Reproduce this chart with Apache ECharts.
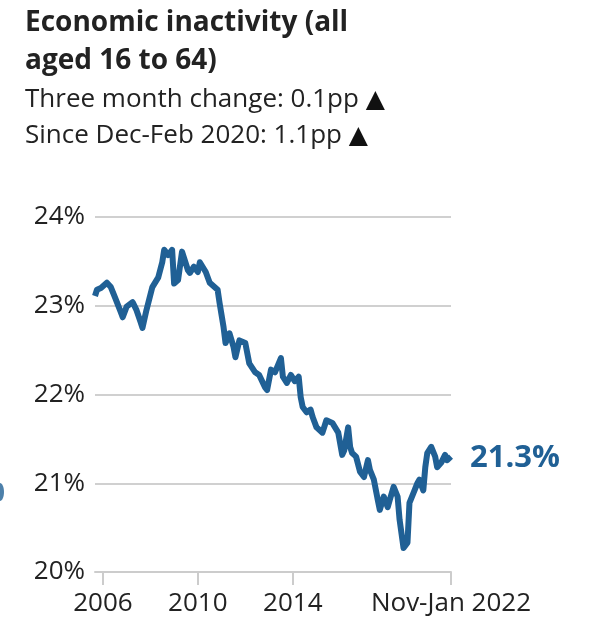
<!DOCTYPE html>
<html>
<head>
<meta charset="utf-8">
<script src="https://cdn.jsdelivr.net/npm/echarts@6/dist/echarts.min.js"></script>
<style>
    html, body { margin: 0; padding: 0; background: #fff; }
    #chart { width: 592px; height: 619px; }
</style>
</head>
<body>
<div id="chart"></div>
<script>
    // months counted from the start of the line (last point = Nov-Jan 2022)
    var months = [0, 1, 3, 6, 8, 10, 13, 14, 16, 19, 21, 23, 24, 26, 29, 32, 34, 35, 37, 39,
        40, 42, 44, 47, 48, 50, 52, 53, 56, 58, 62, 63, 65, 66, 68, 70, 71, 73, 76, 78,
        81, 83, 86, 87, 89, 91, 94, 95, 97, 99, 101, 103, 104, 105, 107, 109, 110, 112, 115, 117,
        120, 123, 125, 126, 128, 129, 130, 132, 134, 136, 138, 139, 141, 143, 144, 146, 148, 149, 151, 153,
        154, 156, 158, 159, 161, 163, 164, 166, 167, 168, 170, 172, 173, 175, 177, 178, 180];
    // inactivity rate, %
    var rates = [23.11, 23.18, 23.2, 23.26, 23.21, 23.1, 22.93, 22.87, 22.99, 23.04, 22.95, 22.82, 22.75, 22.95, 23.21, 23.32, 23.49, 23.63, 23.57, 23.63,
        23.25, 23.29, 23.61, 23.4, 23.37, 23.44, 23.38, 23.49, 23.38, 23.26, 23.18, 23.03, 22.76, 22.58, 22.69, 22.54, 22.42, 22.61, 22.58, 22.35,
        22.25, 22.22, 22.08, 22.05, 22.28, 22.25, 22.41, 22.2, 22.13, 22.22, 22.15, 22.2, 21.97, 21.86, 21.8, 21.83, 21.75, 21.63, 21.57, 21.71,
        21.68, 21.57, 21.32, 21.37, 21.63, 21.41, 21.34, 21.3, 21.13, 21.07, 21.26, 21.15, 21.04, 20.81, 20.7, 20.85, 20.73, 20.81, 20.96, 20.85,
        20.59, 20.27, 20.33, 20.78, 20.89, 21.0, 21.04, 20.92, 21.18, 21.34, 21.41, 21.3, 21.18, 21.23, 21.32, 21.26, 21.3];
    // x axis ticks
    var tickMonths = [4, 52, 100, 180];
    var tickLabels = ['2006', '2010', '2014', 'Nov-Jan 2022'];
    var yTicks = [20, 21, 22, 23, 24];

    var blue = '#206095';
    var font = '"Open Sans", sans-serif';

    var seriesData = [];
    for (var i = 0; i < months.length; i++) {
        seriesData.push([months[i], rates[i]]);
    }

    // subtitle line with a larger triangle
    var subLine = function (txt, top) {
        return {
            type: 'text', left: 25, top: top,
            style: {
                text: '{t|' + txt + ' }{a|\u25B2}',
                rich: {
                    t: {font: '26px ' + font, fill: '#222'},
                    a: {font: '25px "DejaVu Sans", sans-serif', fill: '#111'}
                }
            }
        };
    };

    var myChart = echarts.init(document.getElementById('chart'));
    var option = {
        animation: false,
        grid: {
            left: 95,
            right: 141,
            top: 217,
            bottom: 47
        },
        graphic: [
            {type: 'text', left: 25, top: 9, style: {text: 'Economic inactivity (all', font: 'bold 28px ' + font, fill: '#222'}},
            {type: 'text', left: 25, top: 47, style: {text: 'aged 16 to 64)', font: 'bold 28px ' + font, fill: '#222'}},
            subLine('Three month change: 0.1pp', 87),
            subLine('Since Dec-Feb 2020: 1.1pp', 123),
            // piece of the neighbouring chart cut by the frame
            {type: 'ellipse', shape: {cx: 0, cy: 492, rx: 4, ry: 9}, style: {fill: blue, opacity: 0.8}}
        ],
        xAxis: {
            type: 'value',
            min: 0,
            max: 180,
            splitLine: {show: false},
            axisLine: {show: true, lineStyle: {color: '#cccccc', width: 2}},
            axisTick: {show: true, length: 13, customValues: tickMonths, lineStyle: {color: '#cccccc', width: 2}},
            axisLabel: {
                customValues: tickMonths,
                margin: 19,
                fontSize: 26,
                fontFamily: font,
                color: '#222',
                formatter: function (v) {
                    return tickLabels[tickMonths.indexOf(v)];
                }
            }
        },
        yAxis: {
            type: 'value',
            min: 20,
            max: 24,
            interval: 1,
            axisLine: {show: false},
            axisTick: {show: false},
            splitLine: {lineStyle: {color: '#d0d0d0', width: 2}},
            axisLabel: {
                margin: 10,
                fontSize: 26,
                fontFamily: font,
                color: '#222',
                formatter: function (v) {
                    return yTicks.indexOf(v) >= 0 ? v + '%' : '';
                }
            }
        },
        series: [{
            type: 'line',
            data: seriesData,
            showSymbol: false,
            lineStyle: {color: blue, width: 6, join: 'round'},
            endLabel: {
                show: true,
                distance: 19,
                offset: [0, 2],
                fontSize: 31,
                fontWeight: 'bold',
                fontFamily: font,
                color: blue,
                formatter: function (p) {
                    return p.value[1].toFixed(1) + '%';
                }
            }
        }]
    };
    myChart.setOption(option);
</script>
</body>
</html>
